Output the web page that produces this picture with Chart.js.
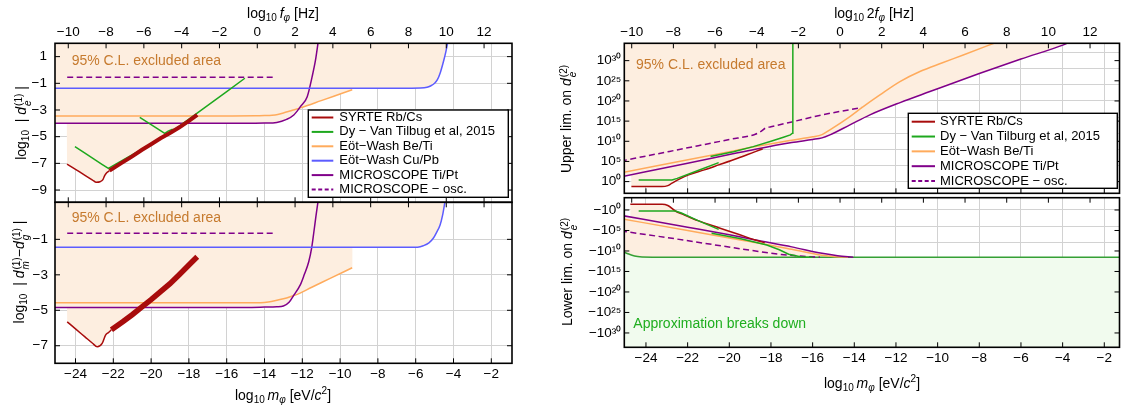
<!DOCTYPE html>
<html><head><meta charset="utf-8">
<script src="https://cdn.jsdelivr.net/npm/chart.js@4.4.1/dist/chart.umd.min.js"></script>
<style>
html,body{margin:0;padding:0;background:#fff;}
body{position:relative;width:1121px;height:407px;overflow:hidden;font-family:"Liberation Sans",Arial,sans-serif;}
canvas{position:absolute;left:0;top:0;}
.ttl{position:absolute;font-size:14px;line-height:16px;white-space:nowrap;color:#000;transform:translate(-50%,-50%);}
.rot{transform:translate(-50%,-50%) rotate(-90deg);}
.ttl sub{font-size:10px;vertical-align:-3px;line-height:0;}
.ttl sup{font-size:10px;vertical-align:6px;line-height:0;}
.st{display:inline-flex;flex-direction:column;vertical-align:4px;font-size:10px;line-height:9px;margin-left:1px;}
</style></head>
<body>
<canvas id="lt" width="1121" height="407"></canvas>
<canvas id="lb" width="1121" height="407"></canvas>
<canvas id="rt" width="1121" height="407"></canvas>
<canvas id="rb" width="1121" height="407"></canvas>

<div class="ttl" style="left:283px;top:13px">log<sub>10</sub>&#8201;<i>f</i><sub><i>φ</i></sub> [Hz]</div>
<div class="ttl" style="left:874px;top:13px">log<sub>10</sub>&#8201;2<i>f</i><sub><i>φ</i></sub> [Hz]</div>
<div class="ttl" style="left:283px;top:395px">log<sub>10</sub>&#8201;<i>m</i><sub><i>φ</i></sub> [eV/<i>c</i><sup>2</sup>]</div>
<div class="ttl" style="left:872px;top:383px">log<sub>10</sub>&#8201;<i>m</i><sub><i>φ</i></sub> [eV/<i>c</i><sup>2</sup>]</div>
<div class="ttl rot" style="left:22px;top:123px">log<sub>10</sub>&nbsp; | <i>d</i><span class="st"><span>(1)</span><span><i>e</i></span></span> |</div>
<div class="ttl rot" style="left:20px;top:272px">log<sub>10</sub>&nbsp; | <i>d</i><span class="st"><span>(1)</span><span><i>m̂</i></span></span>−<i>d</i><span class="st"><span>(1)</span><span><i>g</i></span></span> |</div>
<div class="ttl rot" style="left:567px;top:119px">Upper lim. on <i>d</i><span class="st"><span>(2)</span><span><i>e</i></span></span></div>
<div class="ttl rot" style="left:568px;top:272px">Lower lim. on <i>d</i><span class="st"><span>(2)</span><span><i>e</i></span></span></div>

<script>
// ---------------- ticks / labels ----------------
const mTicks = [-24,-22,-20,-18,-16,-14,-12,-10,-8,-6,-4,-2];
const fTicks = [-10,-8,-6,-4,-2,0,2,4,6,8,10,12];
const ltYTicks = [1,-1,-3,-5,-7,-9];
const lbYTicks = [-1,-3,-5,-7];
const rYTicks = [0,5,10,15,20,25,30];
const rYGrid = [0,4,8,12,16,20,24,28,32];
const leftLegend = ["SYRTE Rb/Cs","Dy \u2212 Van Tilbug et al, 2015","E\u00f6t\u2212Wash Be/Ti","E\u00f6t\u2212Wash Cu/Pb","MICROSCOPE Ti/Pt","MICROSCOPE \u2212 osc."];
const rightLegend = ["SYRTE Rb/Cs","Dy \u2212 Van Tilburg et al, 2015","E\u00f6t\u2212Wash Be/Ti","MICROSCOPE Ti/Pt","MICROSCOPE \u2212 osc."];
const excludedText = "95% C.L. excluded area";
const breakText = "Approximation breaks down";
const log10HzPerEv = 14.383;      // f = m c^2 / h
const log10HzPerEv2f = 14.684;    // 2f

// ---------------- left top: log10 |d_e^(1)| ----------------
const ltSyrteThinX = [-24.45,-24.0,-23.5,-23.1,-22.9,-22.7,-22.55,-22.45,-22.35,-22.2];
const ltSyrteThinY = [-7.05,-7.45,-7.9,-8.25,-8.42,-8.38,-8.22,-7.9,-7.7,-7.55];
const ltSyrteBandX = [-22.2,-21.6,-21.0,-20.5,-20.0,-19.5,-19.0,-18.5,-18.0,-17.56];
const ltSyrteBandY = [-7.55,-7.0,-6.48,-6.0,-5.57,-5.12,-4.72,-4.3,-3.82,-3.37];
const ltDyAX = [-24.03,-23.5,-23.0,-22.6,-22.26,-21.5,-20.5,-19.68];
const ltDyAY = [-5.75,-6.24,-6.7,-7.07,-7.37,-6.76,-5.96,-5.3];
const ltDyBX = [-20.6,-20.0,-19.28,-19.1,-18.9,-18.75,-18.0,-17.0,-16.0,-15.04];
const ltDyBY = [-3.55,-4.1,-4.75,-4.58,-4.47,-4.45,-3.68,-2.65,-1.62,-0.62];
const ltBeTiX = [-25.2,-16,-14.5,-14.0,-13.6,-13.3,-13.0,-12.6,-12.1,-11.0,-10.0,-9.36];
const ltBeTiY = [-3.45,-3.45,-3.44,-3.42,-3.39,-3.33,-3.22,-3.05,-2.84,-2.3,-1.8,-1.48];
const ltCuPbX = [-25.2,-6.2,-5.75,-5.4,-5.22,-5.0,-4.86,-4.7,-4.51,-4.4,-4.3];
const ltCuPbY = [-1.37,-1.37,-1.36,-1.3,-1.2,-1.0,-0.75,-0.2,0.75,1.4,2.1];
const ltTiPtX = [-25.2,-15,-14,-13.35,-12.83,-12.45,-12.1,-11.74,-11.48,-11.3,-11.16];
const ltTiPtY = [-4,-4,-3.98,-3.93,-3.7,-3.37,-2.75,-2.0,-0.5,0.75,2.1];
const ltOscX = [-24.44,-13.42];
const ltOscY = [-0.55,-0.55];
const ltExclX = [-25.2,-24.46,-24.45,-24.0,-23.5,-23.1,-22.9,-22.7,-22.55,-22.45,-22.35,-22.2,-21.6,-21.0,-20.5,-20.0,-19.5,-19.0,-18.5,-18.23,-15,-14,-13.35,-12.83,-12.45,-12.24,-12.1,-11.0,-10.0,-9.36,-9.35,-6.2,-5.75,-5.4,-5.22,-5.0,-4.86,-4.7,-4.51,-4.4,-4.3];
const ltExclY = [-4,-4,-7.05,-7.45,-7.9,-8.25,-8.42,-8.38,-8.22,-7.9,-7.7,-7.55,-7.0,-6.48,-6.0,-5.57,-5.12,-4.72,-4.3,-4.0,-4,-3.98,-3.93,-3.7,-3.37,-2.9,-2.84,-2.3,-1.8,-1.48,-1.37,-1.37,-1.36,-1.3,-1.2,-1.0,-0.75,-0.2,0.75,1.4,2.1];

// ---------------- left bottom: log10 |d_m^(1) - d_g^(1)| ----------------
const lbSyrteThinX = [-24.44,-24.0,-23.5,-23.1,-22.85,-22.59,-22.41,-22.25,-22.1];
const lbSyrteThinY = [-5.65,-6.05,-6.5,-6.86,-7.06,-6.87,-6.4,-6.25,-6.1];
const lbSyrteBandX = [-22.1,-21.5,-21.0,-20.5,-20.0,-19.5,-19.0,-18.5,-18.0,-17.56];
const lbSyrteBandY = [-6.1,-5.65,-5.25,-4.82,-4.4,-3.95,-3.5,-2.98,-2.45,-1.98];
const lbBeTiX = [-25.2,-15,-14.2,-13.8,-13.4,-13.0,-12.6,-12.27,-11.5,-10.5,-9.36];
const lbBeTiY = [-4.58,-4.58,-4.57,-4.53,-4.45,-4.35,-4.22,-4.1,-3.7,-3.19,-2.6];
const lbCuPbX = [-25.2,-6.2,-5.9,-5.6,-5.3,-5.07,-4.9,-4.71,-4.58,-4.44];
const lbCuPbY = [-1.45,-1.45,-1.44,-1.36,-1.2,-0.94,-0.62,-0.19,0.35,1.2];
const lbTiPtX = [-25.2,-15,-14,-13.35,-13.0,-12.7,-12.45,-12.1,-11.9,-11.66,-11.5,-11.39,-11.28,-11.16];
const lbTiPtY = [-4.84,-4.84,-4.82,-4.8,-4.76,-4.55,-4.15,-3.55,-3.0,-2.26,-1.45,-0.6,0.3,1.2];
const lbOscX = [-24.44,-13.42];
const lbOscY = [-0.66,-0.66];
const lbExclX = [-25.2,-24.45,-24.44,-24.0,-23.5,-23.1,-22.85,-22.59,-22.41,-22.25,-22.1,-21.5,-21.0,-20.52,-15,-14,-13.35,-13.0,-12.7,-12.45,-11.5,-10.5,-9.36,-9.35,-6.2,-5.9,-5.6,-5.3,-5.07,-4.9,-4.71,-4.58,-4.44];
const lbExclY = [-4.84,-4.84,-5.65,-6.05,-6.5,-6.86,-7.06,-6.87,-6.4,-6.25,-6.1,-5.65,-5.25,-4.84,-4.84,-4.82,-4.8,-4.76,-4.55,-4.15,-3.7,-3.19,-2.6,-1.45,-1.45,-1.44,-1.36,-1.2,-0.94,-0.62,-0.19,0.35,1.2];

// ---------------- right top: log10 upper limit on d_e^(2) ----------------
const rtSyrteX = [-24.7,-23.23,-22.95,-22.75,-22.4,-21.95,-21.2,-20.51,-19.6,-18.75,-18.4];
const rtSyrteY = [-1.24,-1.24,-1.0,-0.4,0.6,1.66,2.9,4.14,5.8,7.44,8.1];
const rtDyAX = [-24.35,-22.75,-22.5,-21.5,-20.51];
const rtDyAY = [0.42,0.42,0.8,2.75,4.71];
const rtDyBX = [-20.9,-19.8,-18.85,-18.0,-17.4,-17.07,-16.97,-16.95];
const rtDyBY = [6.2,7.4,8.68,10.0,11.0,11.59,12.0,34.6];
const rtBeTiX = [-25.2,-20,-18.75,-17,-16.0,-15.55,-15.17,-14.21,-13.57,-12.77,-11.81,-10.85,-9.8,-8.77,-7.2];
const rtBeTiY = [2.18,7.4,8.68,10.25,11.1,11.65,12.83,16.13,18.6,21.5,24.8,27.3,29.4,31.4,34.5];
const rtTiPtX = [-25.2,-22,-20,-18.75,-17,-16,-15.55,-15.17,-14.21,-13.25,-11.8,-10.37,-8,-6,-3.96,-3.75];
const rtTiPtY = [1.2,4.55,6.7,8.04,9.7,10.45,10.85,11.6,14.07,16.55,19.6,22.33,26.8,30.4,33.92,34.4];
const rtOscX = [-25.2,-22,-20,-18.75,-18.5,-18.27,-18.0,-17,-15.55,-13.65];
const rtOscY = [5.1,8.38,10.44,11.76,12.4,13.25,13.6,14.8,16.55,18.36];
const rtExclX = [-25.2,-24.71,-24.7,-23.23,-22.95,-22.75,-22.4,-21.95,-21.2,-20.51,-19.6,-18.75,-18.4,-18.3,-17,-16,-15.55,-15.17,-14.21,-13.25,-11.8,-10.37,-8,-6,-3.96,-3.75];
const rtExclY = [1.2,1.7,-1.24,-1.24,-1.0,-0.4,0.6,1.66,2.9,4.14,5.8,7.44,8.1,8.45,9.7,10.45,10.85,11.6,14.07,16.55,19.6,22.33,26.8,30.4,33.92,34.4];

// ---------------- right bottom: log10 |lower limit on d_e^(2)| (negative) ----------------
const rbSyrteX = [-24.75,-23.23,-22.95,-22.59,-22.2,-21.5,-20.51,-19.6,-18.75,-18.3];
const rbSyrteV = [-1.39,-1.39,-1.1,0.24,1.1,2.6,4.32,5.85,7.32,8.0];
const rbDyAX = [-24.35,-22.59,-22.3,-21.5,-20.51];
const rbDyAV = [0.24,0.24,0.75,2.58,4.72];
const rbDyBX = [-20.85,-19.5,-18.2,-17.6,-17.15,-16.92,-16.6,-16.3,-16.0];
const rbDyBV = [5.68,6.95,8.54,9.7,10.8,11.05,11.39,11.5,11.5];
const rbBeTiX = [-25.2,-22,-20,-18.53,-17,-15.55,-14.9,-14.3];
const rbBeTiV = [2.12,5.0,6.85,8.12,9.6,11.05,11.4,11.5];
const rbTiPtX = [-25.2,-22,-20,-18.75,-17,-15.55,-14.8,-14.05];
const rbTiPtV = [1.3,4.2,6.05,7.32,9.0,10.56,11.15,11.5];
const rbOscX = [-25.2,-22.5,-20.35,-18.53,-17.5,-16.9,-16.2,-15.65];
const rbOscV = [5.12,7.1,8.78,10.17,10.85,11.1,11.4,11.5];
const rbBreakX = [-25.2,-24.9,-24.67,-24.4,-24.19,-23.7,-1.0];
const rbBreakV = [10.0,10.6,11.05,11.35,11.46,11.5,11.5];
const rbExclX = [-25.2,-24.76,-24.75,-23.23,-22.95,-22.59,-22.2,-21.5,-20.51,-19.6,-18.75,-17,-15.55,-14.8,-14.05,-1.0];
const rbExclV = [1.3,1.66,-1.39,-1.39,-1.1,0.24,1.1,2.6,4.32,5.85,7.32,9.0,10.56,11.15,11.5,11.5];

// ---------------- styles ----------------
const C = {syrte:'#a80c0c', dy:'#1ea81e', beti:'#ffab5c', cupb:'#5c5cff', tipt:'#80008a',
  excl:'#fdeee0', breakFill:'#f1fbee', breakLine:'#35a035', note:'#c67a2e', noteGreen:'#1fae1f', grid:'#d2d2d2'};
const FONT = '"Liberation Sans", Arial, sans-serif';
const OSC_DASH = [6,3.5];

function pts(xs, ys){ return xs.map((x,i)=>({x:x, y:ys[i]})); }
function curve(xs, ys, color, extra){
  return Object.assign({data:pts(xs,ys), borderColor:color, borderWidth:1.5, pointRadius:0,
    fill:false, cubicInterpolationMode:'monotone'}, extra||{});
}
function straight(xs, ys, color, extra){
  return Object.assign({data:pts(xs,ys), borderColor:color, borderWidth:1.5, pointRadius:0,
    fill:false, tension:0}, extra||{});
}
// edge: 'end' = top of the panel, 'start' = bottom of the panel
function area(xs, ys, color, edge){
  return {data:pts(xs,ys), borderWidth:0, borderColor:'rgba(0,0,0,0)', pointRadius:0,
    tension:0, fill:edge || 'end', backgroundColor:color};
}

const SUP = {'0':'\u2070','1':'\u00b9','2':'\u00b2','3':'\u00b3','4':'\u2074','5':'\u2075','6':'\u2076','7':'\u2077','8':'\u2078','9':'\u2079'};
const sup = n => String(n).split('').map(c=>SUP[c]||c).join('');
const MINUS = '\u2212';
const plain = v => v < 0 ? MINUS + Math.abs(v) : String(v);
const fmts = {plain: plain, pow: v => '10' + sup(v), negpow: v => MINUS + '10' + sup(v)};

const panels = {
  lt: {area:{l:55,t:43.3,r:512,b:202.3}, xMin:-25.085, xMax:-0.905, yMin:-9.92, yMax:2.0, rev:false,
       fOff:log10HzPerEv, yTicks:ltYTicks, yGrid:null, yFmt:'plain', yPad:8, topLabels:true, bottomLabels:false,
       topEdge:'f', bottomEdge:'f',
       notes:[{text:excludedText, x:71.7, y:61, color:C.note}],
       legend:{labels:leftLegend, colors:[C.syrte,C.dy,C.beti,C.cupb,C.tipt,C.tipt], dashes:[0,0,0,0,0,1],
               box:[308.3,110,200,87.3], y0:117.5, dy:14.4, l0:311.7, l1:333.3, tx:339.3},
       datasets:[
         straight(ltSyrteBandX, ltSyrteBandY, C.syrte, {borderWidth:4}),
         curve(ltSyrteThinX, ltSyrteThinY, C.syrte),
         straight(ltDyAX, ltDyAY, C.dy),
         straight(ltDyBX, ltDyBY, C.dy),
         curve(ltCuPbX, ltCuPbY, C.cupb),
         curve(ltTiPtX, ltTiPtY, C.tipt),
         curve(ltBeTiX, ltBeTiY, C.beti),
         straight(ltOscX, ltOscY, C.tipt, {borderDash:OSC_DASH}),
         area(ltExclX, ltExclY, C.excl)
       ]},
  lb: {area:{l:55,t:202.3,r:512,b:363.3}, xMin:-25.085, xMax:-0.905, yMin:-7.99, yMax:1.09, rev:false,
       fOff:log10HzPerEv, yTicks:lbYTicks, yGrid:null, yFmt:'plain', yPad:7, topLabels:false, bottomLabels:true,
       topEdge:'f', bottomEdge:'m',
       notes:[{text:excludedText, x:71.7, y:217.7, color:C.note}],
       legend:null,
       datasets:[
         straight(lbSyrteBandX, lbSyrteBandY, C.syrte, {borderWidth:5.5}),
         curve(lbSyrteThinX, lbSyrteThinY, C.syrte),
         curve(lbCuPbX, lbCuPbY, C.cupb),
         curve(lbTiPtX, lbTiPtY, C.tipt),
         curve(lbBeTiX, lbBeTiY, C.beti),
         straight(lbOscX, lbOscY, C.tipt, {borderDash:OSC_DASH}),
         area(lbExclX, lbExclY, C.excl)
       ]},
  rt: {area:{l:624.3,t:43.3,r:1119.5,b:193.3}, xMin:-25.04, xMax:-1.27, yMin:-2.9, yMax:34.3, rev:false,
       fOff:log10HzPerEv2f, yTicks:rYTicks, yGrid:rYGrid, yFmt:'pow', yPad:3, topLabels:true, bottomLabels:false,
       topEdge:'f', bottomEdge:'m',
       notes:[{text:excludedText, x:636, y:65, color:C.note}],
       legend:{labels:rightLegend, colors:[C.syrte,C.dy,C.beti,C.tipt,C.tipt], dashes:[0,0,0,0,1],
               box:[908.3,113.3,209,75], y0:121.7, dy:14.83, l0:911.7, l1:935, tx:940},
       datasets:[
         straight(rtDyAX, rtDyAY, C.dy),
         straight(rtDyBX, rtDyBY, C.dy),
         curve(rtSyrteX, rtSyrteY, C.syrte),
         curve(rtTiPtX, rtTiPtY, C.tipt),
         curve(rtBeTiX, rtBeTiY, C.beti),
         curve(rtOscX, rtOscY, C.tipt, {borderDash:OSC_DASH}),
         area(rtExclX, rtExclY, C.excl)
       ]},
  rb: {area:{l:624.3,t:197.7,r:1119.5,b:347.3}, xMin:-25.04, xMax:-1.27, yMin:-3.0, yMax:33.5, rev:true,
       fOff:log10HzPerEv2f, yTicks:rYTicks, yGrid:rYGrid, yFmt:'negpow', yPad:3, topLabels:false, bottomLabels:true,
       topEdge:'f', bottomEdge:'m',
       notes:[{text:breakText, x:633.3, y:324.3, color:C.noteGreen}],
       legend:null,
       datasets:[
         straight(rbDyAX, rbDyAV, C.dy),
         straight(rbDyBX, rbDyBV, C.dy),
         curve(rbSyrteX, rbSyrteV, C.syrte),
         curve(rbTiPtX, rbTiPtV, C.tipt),
         curve(rbBeTiX, rbBeTiV, C.beti),
         curve(rbOscX, rbOscV, C.tipt, {borderDash:OSC_DASH}),
         Object.assign(curve(rbBreakX, rbBreakV, C.breakLine), {fill:'start', backgroundColor:C.breakFill}),
         area(rbExclX, rbExclV, C.excl, 'start')
       ]}
};

const TOP_H = 20, BOT_H = 20, Y_W = 50;
const tickFont = {family: FONT, size: 13.5};

const decor = {
  id: 'decor',
  afterDatasetsDraw(chart) {
    const p = panels[chart.canvas.id];
    const ctx = chart.ctx, a = chart.chartArea, L = 5;
    const sx = chart.scales.x, sf = chart.scales.x2, sy = chart.scales.y;
    ctx.save();
    // inward frame ticks
    ctx.strokeStyle = '#000'; ctx.lineWidth = 1; ctx.beginPath();
    const edgeVals = k => k === 'f' ? fTicks.map(v => sf.getPixelForValue(v)) : mTicks.map(v => sx.getPixelForValue(v));
    edgeVals(p.topEdge).forEach(px => { ctx.moveTo(px, a.top); ctx.lineTo(px, a.top + L); });
    edgeVals(p.bottomEdge).forEach(px => { ctx.moveTo(px, a.bottom); ctx.lineTo(px, a.bottom - L); });
    p.yTicks.forEach(v => { const py = sy.getPixelForValue(v);
      ctx.moveTo(a.left, py); ctx.lineTo(a.left + L, py);
      ctx.moveTo(a.right, py); ctx.lineTo(a.right - L, py); });
    ctx.stroke();
    // frame
    ctx.lineWidth = 1.6; ctx.strokeStyle = '#000';
    ctx.strokeRect(a.left, a.top, a.right - a.left, a.bottom - a.top);
    // notes
    ctx.textBaseline = 'middle'; ctx.textAlign = 'left';
    p.notes.forEach(n => { ctx.font = '14px ' + FONT; ctx.fillStyle = n.color; ctx.fillText(n.text, n.x, n.y); });
    // legend
    const lg = p.legend;
    if (lg) {
      const b = lg.box;
      ctx.fillStyle = '#fff'; ctx.fillRect(b[0], b[1], b[2], b[3]);
      ctx.lineWidth = 1.4; ctx.strokeStyle = '#000'; ctx.strokeRect(b[0], b[1], b[2], b[3]);
      ctx.font = '13px ' + FONT;
      lg.labels.forEach((lab, i) => {
        const y = lg.y0 + i * lg.dy;
        ctx.beginPath(); ctx.setLineDash(lg.dashes[i] ? [4,2.5] : []);
        ctx.strokeStyle = lg.colors[i]; ctx.lineWidth = 2;
        ctx.moveTo(lg.l0, y); ctx.lineTo(lg.l1, y); ctx.stroke();
        ctx.setLineDash([]);
        ctx.fillStyle = '#000'; ctx.fillText(lab, lg.tx, y);
      });
    }
    ctx.restore();
  }
};

function build(id) {
  const p = panels[id];
  const scales = {
    x: {type:'linear', position:'bottom', min:p.xMin, max:p.xMax, bounds:'data',
        afterBuildTicks: s => { s.ticks = mTicks.map(v => ({value:v})); },
        ticks:{display:p.bottomLabels, padding:3, font:tickFont, color:'#000', autoSkip:false, maxRotation:0, callback: v => plain(v)},
        grid:{display:true, color:C.grid, lineWidth:1, drawTicks:false},
        border:{display:false},
        afterFit: s => { s.height = p.bottomLabels ? BOT_H : 0; s.paddingLeft = 0; s.paddingRight = 0; }},
    x2: {type:'linear', position:'top', min:p.xMin + p.fOff, max:p.xMax + p.fOff, bounds:'data',
        afterBuildTicks: s => { s.ticks = fTicks.map(v => ({value:v})); },
        ticks:{display:p.topLabels, padding:3, font:tickFont, color:'#000', autoSkip:false, maxRotation:0, callback: v => plain(v)},
        grid:{display:false, drawTicks:false},
        border:{display:false},
        afterFit: s => { s.height = p.topLabels ? TOP_H : 0; s.paddingLeft = 0; s.paddingRight = 0; }},
    y: {type:'linear', position:'left', min:p.yMin, max:p.yMax, reverse:p.rev, bounds:'data',
        afterBuildTicks: s => { s.ticks = p.yTicks.map(v => ({value:v})); },
        ticks:{padding:p.yPad, font:tickFont, color:'#000', autoSkip:false, callback: v => fmts[p.yFmt](v)},
        grid:{display:!p.yGrid, color:C.grid, lineWidth:1, drawTicks:false},
        border:{display:false},
        afterFit: s => { s.width = Y_W; s.paddingTop = 0; s.paddingBottom = 0; }}
  };
  if (p.yGrid) {
    scales.yg = {type:'linear', position:'left', min:p.yMin, max:p.yMax, reverse:p.rev, bounds:'data',
        afterBuildTicks: s => { s.ticks = p.yGrid.map(v => ({value:v})); },
        ticks:{display:false}, grid:{display:true, color:C.grid, lineWidth:1, drawTicks:false},
        border:{display:false},
        afterFit: s => { s.width = 0; s.paddingTop = 0; s.paddingBottom = 0; }};
  }
  const a = p.area;
  new Chart(document.getElementById(id), {
    type:'line',
    data:{datasets:p.datasets},
    options:{
      responsive:false, animation:false, devicePixelRatio:1, events:[],
      layout:{padding:{left:a.l - Y_W, top:a.t - (p.topLabels ? TOP_H : 0), right:1121 - a.r, bottom:407 - a.b - (p.bottomLabels ? BOT_H : 0)}},
      plugins:{legend:{display:false}, tooltip:{enabled:false}},
      scales:scales
    },
    plugins:[decor]
  });
}
['lt','lb','rt','rb'].forEach(build);
</script>
</body></html>
